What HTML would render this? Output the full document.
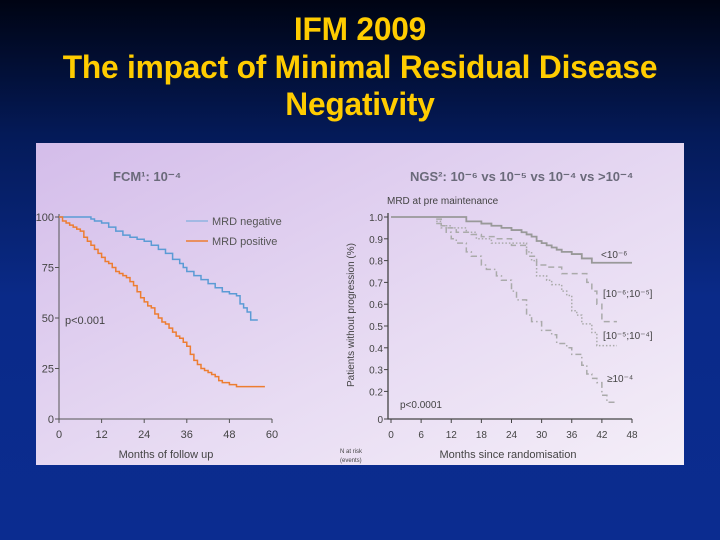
<!DOCTYPE html>
<html><head><meta charset="utf-8"><style>
body{margin:0;width:720px;height:540px;overflow:hidden;background:linear-gradient(180deg,#000413 0%,#041a58 25%,#0a2a88 55%,#0b2c90 100%);font-family:"Liberation Sans",sans-serif}
.t{position:absolute;left:0;width:720px;text-align:center;color:#ffcc00;font-size:32px;font-weight:bold;line-height:37.5px;letter-spacing:-0.2px;transform:scaleX(0.99)}
</style></head><body>
<div class="t" style="top:11px">IFM 2009<br>The impact of Minimal Residual Disease<br>Negativity</div>
<svg width="720" height="540" style="position:absolute;left:0;top:0">
<defs><linearGradient id="bg" x1="0" y1="0" x2="1" y2="1"><stop offset="0" stop-color="#d4bdea"/><stop offset="0.6" stop-color="#e8dcf3"/><stop offset="1" stop-color="#f4eef8"/></linearGradient></defs>
<rect x="36" y="143" width="648" height="322" fill="url(#bg)"/>
<g id="L" font-family="Liberation Sans, sans-serif"></g>
<g id="R" font-family="Liberation Sans, sans-serif"></g>
</svg>
<script>
// Left chart data (FCM)
const lTicksX=[0,12,24,36,48,60];
const lTicksY=[0,25,50,75,100];
const negM=[0,8,9,10,12,14,16,18,20,22,24,26,28,30,32,34,35,36,38,40,42,44,46,48,50,51,52,53,54,56];
const negV=[100,100,99,98,97,95,93,91,90,89,88,86,84,82,79,77,75,73,71,69,67,65,63,62,61,57,55,53,49,49];
const posM=[0,1,2,3,4,5,6,7,8,9,10,11,12,13,14,15,16,17,18,19,20,21,22,23,24,25,26,27,28,29,30,31,32,33,34,35,36,37,38,39,40,41,42,43,44,45,46,48,50,58];
const posV=[100,98,97,96,95,94,93,90,88,86,84,82,80,78,77,75,73,72,71,70,68,66,63,60,58,56,55,52,50,48,47,45,43,41,40,38,36,32,29,27,25,24,23,22,21,19,18,17,16,16];
// Right chart data (NGS)
const rTicksX=[0,6,12,18,24,30,36,42,48];
const rTicksY=[0,0.2,0.3,0.4,0.5,0.6,0.7,0.8,0.9,1.0];
const rTickLbl=["0","0.2","0.3","0.4","0.5","0.6","0.7","0.8","0.9","1.0"];
const s1M=[0,14,15,17,18,20,22,24,26,27,28,29,30,31,32,33,34,36,38,40,48];
const s1V=[1,1,0.98,0.98,0.97,0.96,0.95,0.94,0.93,0.92,0.91,0.89,0.88,0.87,0.86,0.85,0.84,0.83,0.81,0.79,0.79];
const s2M=[9,10,11,13,16,18,21,24,27,29,31,34,38,39,40,41,42,45];
const s2V=[0.99,0.96,0.95,0.93,0.92,0.91,0.90,0.87,0.82,0.78,0.77,0.74,0.74,0.70,0.66,0.60,0.52,0.52];
const s3M=[9,10,12,15,17,20,24,27,28,29,31,32,34,35,36,37,38,40,41,45];
const s3V=[0.98,0.96,0.95,0.93,0.90,0.88,0.88,0.84,0.80,0.73,0.71,0.69,0.66,0.64,0.57,0.55,0.51,0.47,0.41,0.41];
const s4M=[9,10,11,12,13,15,16,18,19,21,22,24,25,27,28,30,32,33,35,36,38,39,40,41,42,43,45];
const s4V=[0.97,0.95,0.93,0.90,0.88,0.84,0.82,0.78,0.76,0.73,0.71,0.66,0.62,0.55,0.52,0.48,0.46,0.42,0.40,0.37,0.32,0.28,0.26,0.24,0.17,0.12,0.12];

const NS="http://www.w3.org/2000/svg";
function mk(p,tag,a,txt){const e=document.createElementNS(NS,tag);for(const k in a)e.setAttribute(k,a[k]);if(txt!==undefined)e.textContent=txt;p.appendChild(e);return e;}
function stepPath(M,V,fx,fy){let d="M"+fx(M[0])+","+fy(V[0]);for(let i=1;i<M.length;i++){d+="H"+fx(M[i])+"V"+fy(V[i]);}return d;}

// Left
const L=document.getElementById('L');
const lx=m=>59+m*(272-59)/60, ly=v=>419-v*(419-217)/100;
let e;
e=mk(L,'text',{x:113,y:181,'font-size':13,'font-weight':'bold',fill:'#6a6a7a'},'FCM¹: 10⁻⁴');

e=mk(L,'path',{d:`M${lx(0)},${ly(100)-3}V${ly(0)}H${lx(60)}`,stroke:'#555',fill:'none','stroke-width':1});

lTicksX.forEach(t=>{mk(L,'line',{x1:lx(t),x2:lx(t),y1:ly(0),y2:ly(0)+4,stroke:'#555'});
 e=mk(L,'text',{x:lx(t),y:438,'font-size':11,'text-anchor':'middle',fill:'#444'},t);
 });
lTicksY.forEach(t=>{mk(L,'line',{x1:lx(0)-4,x2:lx(0),y1:ly(t),y2:ly(t),stroke:'#555'});
 e=mk(L,'text',{x:lx(0)-5,y:ly(t)+4,'font-size':11,'text-anchor':'end',fill:'#444'},t);
 });
e=mk(L,'path',{d:stepPath(negM,negV,lx,ly),stroke:'#5b9bd5',fill:'none','stroke-width':1.5});

e=mk(L,'path',{d:stepPath(posM,posV,lx,ly),stroke:'#ed7d31',fill:'none','stroke-width':1.5});

mk(L,'line',{x1:186,x2:208,y1:221,y2:221,stroke:'#8fb3e0','stroke-width':1.5});
e=mk(L,'text',{x:212,y:225,'font-size':11,fill:'#555'},'MRD negative');

mk(L,'line',{x1:186,x2:208,y1:241,y2:241,stroke:'#ed7d31','stroke-width':1.5});
e=mk(L,'text',{x:212,y:245,'font-size':11,fill:'#555'},'MRD positive');

e=mk(L,'text',{x:65,y:324,'font-size':11,fill:'#444'},'p<0.001');

e=mk(L,'text',{x:166,y:458,'font-size':11,'text-anchor':'middle',fill:'#444'},'Months of follow up');


// Right
const R=document.getElementById('R');
const rx=m=>391+m*(632-391)/48;
const ry=v=>v>=0.2?(217+(1-v)*218):(419-v*(419-391)/0.2);
e=mk(R,'text',{x:410,y:181,'font-size':13,'font-weight':'bold',fill:'#6a6a7a'},'NGS²: 10⁻⁶ vs 10⁻⁵ vs 10⁻⁴ vs >10⁻⁴');

e=mk(R,'text',{x:387,y:204,'font-size':10,fill:'#444'},'MRD at pre maintenance');

e=mk(R,'path',{d:`M${rx(0)-3},${ry(1)-4}V${ry(0)}H${rx(48)}`,stroke:'#444',fill:'none','stroke-width':1.3});

rTicksX.forEach(t=>{mk(R,'line',{x1:rx(t),x2:rx(t),y1:ry(0),y2:ry(0)+4,stroke:'#444'});
 e=mk(R,'text',{x:rx(t),y:438,'font-size':10,'text-anchor':'middle',fill:'#444'},t);
 });
rTicksY.forEach((t,i)=>{mk(R,'line',{x1:rx(0)-7,x2:rx(0)-3,y1:ry(t),y2:ry(t),stroke:'#444'});
 e=mk(R,'text',{x:rx(0)-8,y:ry(t)+4,'font-size':10,'text-anchor':'end',fill:'#444'},rTickLbl[i]);
 });
e=mk(R,'text',{x:0,y:0,'font-size':10,'text-anchor':'middle',fill:'#444',transform:'translate(354,315) rotate(-90)'},'Patients without progression (%)');

const styles=[['#999','none',1.8],['#aaa','6,4',1.5],['#aaa','1.5,2',1.5],['#aaa','6,3,1.5,3',1.5]];
[[s1M,s1V,'curve-lt-1e-6'],[s2M,s2V,'curve-1e-6-1e-5'],[s3M,s3V,'curve-1e-5-1e-4'],[s4M,s4V,'curve-ge-1e-4']].forEach((s,i)=>{
 e=mk(R,'path',{d:stepPath(s[0],s[1],rx,ry),stroke:styles[i][0],'stroke-dasharray':styles[i][1],fill:'none','stroke-width':styles[i][2]});
 });
[['<10⁻⁶',601,258],['[10⁻⁶;10⁻⁵]',603,297],['[10⁻⁵;10⁻⁴]',603,339],['≥10⁻⁴',607,382]].forEach(l=>{
 e=mk(R,'text',{x:l[1],y:l[2],'font-size':10,fill:'#444'},l[0]);
 });
e=mk(R,'text',{x:400,y:408,'font-size':10,fill:'#444'},'p<0.0001');

e=mk(R,'text',{x:508,y:458,'font-size':11,'text-anchor':'middle',fill:'#444'},'Months since randomisation');

e=mk(R,'text',{x:340,y:453,'font-size':6,fill:'#444'},'N at risk');

e=mk(R,'text',{x:340,y:462,'font-size':6,fill:'#444'},'(events)');

</script>
</body></html>
